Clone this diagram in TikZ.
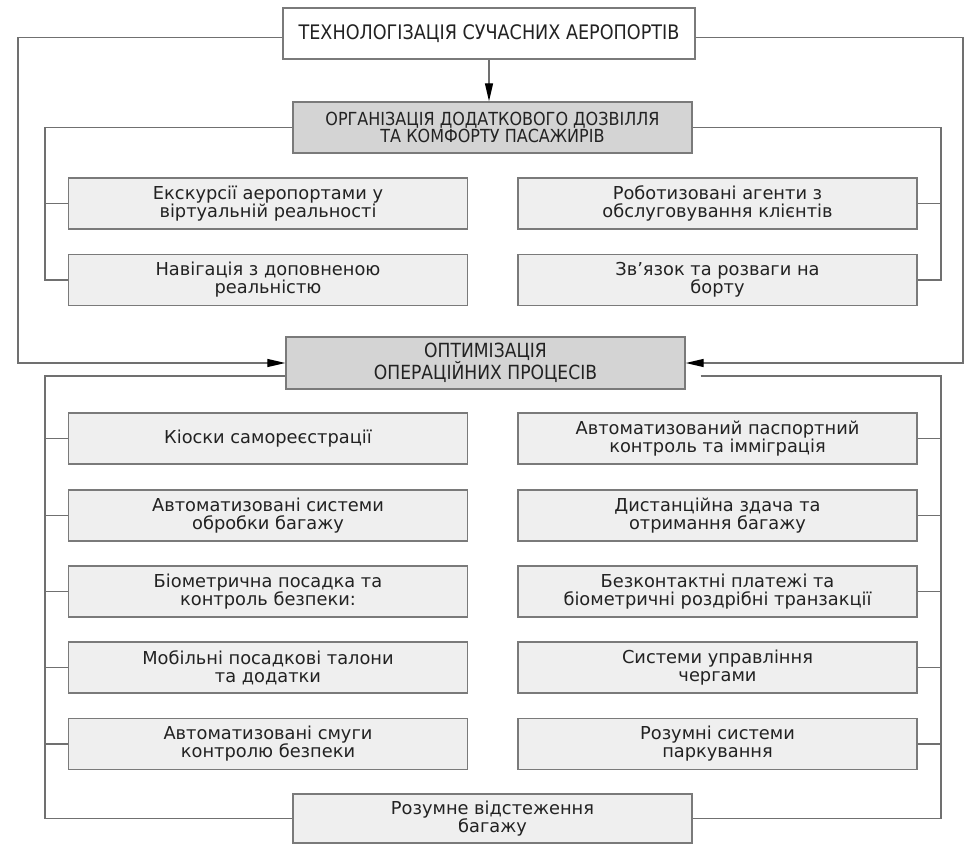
\documentclass[tikz,border=0pt]{standalone}
\usepackage{fontspec}
\setmainfont{DejaVu Sans}
\newfontfamily\hdrfont[FakeStretch=0.88]{DejaVu Sans}
\newfontfamily\orgfont[FakeStretch=0.89]{DejaVu Sans}
\usetikzlibrary{arrows.meta}
\definecolor{linegray}{HTML}{707070}
\definecolor{boxline}{HTML}{7A7A7A}
\definecolor{hdrfill}{HTML}{D4D4D4}
\definecolor{itemfill}{HTML}{EFEFEF}
\definecolor{txt}{HTML}{222222}
\tikzset{
  basebox/.style={draw=boxline, line width=1.4pt, inner sep=0pt, align=center, text=txt},
  topbox/.style={basebox, fill=white, minimum width=412pt, minimum height=51pt,
     font=\hdrfont\fontsize{20}{17}\selectfont},
  hdrbox/.style={basebox, fill=hdrfill, minimum width=399pt, minimum height=51pt,
     font=\orgfont\fontsize{18}{17}\selectfont},
  itembox/.style={basebox, fill=itemfill, minimum width=399pt, minimum height=51pt,
     font=\fontsize{17.8}{18}\selectfont},
  conn/.style={draw=linegray, line width=1.3pt},
  arr/.style={conn, -{Triangle[length=18pt,width=8pt,black]}}
}
\begin{document}
\begin{tikzpicture}[x=1pt,y=-1pt]
\useasboundingbox (0,0) rectangle (966,845);
% main nodes
\node[topbox] (top) at (489,33.5) {ТЕХНОЛОГІЗАЦІЯ СУЧАСНИХ АЕРОПОРТІВ};
\node[hdrbox] (org) at (492.5,127.5) {ОРГАНІЗАЦІЯ ДОДАТКОВОГО ДОЗВІЛЛЯ\\ТА КОМФОРТУ ПАСАЖИРІВ};
\node[hdrbox, minimum height=52pt, font=\hdrfont\fontsize{19.5}{21}\selectfont] (opt) at (485.5,363) {ОПТИМІЗАЦІЯ\\ОПЕРАЦІЙНИХ ПРОЦЕСІВ};
% upper items
\node[itembox] (ul1) at (268,203.5) {Екскурсії аеропортами у\\віртуальній реальності};
\node[itembox] (ul2) at (268,280) {Навігація з доповненою\\реальністю};
\node[itembox] (ur1) at (717.5,203.5) {Роботизовані агенти з\\обслуговування клієнтів};
\node[itembox] (ur2) at (717.5,280) {Зв’язок та розваги на\\борту};
% lower items
\node[itembox] (ll1) at (268,438.5) {Кіоски самореєстрації};
\node[itembox] (ll2) at (268,515.5) {Автоматизовані системи\\обробки багажу};
\node[itembox] (ll3) at (268,591.5) {Біометрична посадка та\\контроль безпеки:};
\node[itembox] (ll4) at (268,667.5) {Мобільні посадкові талони\\та додатки};
\node[itembox] (ll5) at (268,744) {Автоматизовані смуги\\контролю безпеки};
\node[itembox] (lr1) at (717.5,438.5) {Автоматизований паспортний\\контроль та імміграція};
\node[itembox] (lr2) at (717.5,515.5) {Дистанційна здача та\\отримання багажу};
\node[itembox] (lr3) at (717.5,591.5) {Безконтактні платежі та\\біометричні роздрібні транзакції};
\node[itembox] (lr4) at (717.5,667.5) {Системи управління\\чергами};
\node[itembox] (lr5) at (717.5,744) {Розумні системи\\паркування};
\node[itembox, minimum height=49pt] (bot) at (492.5,818.5) {Розумне відстеження\\багажу};
% rails
\coordinate (farL) at (18,0);
\coordinate (farR) at (963,0);
\coordinate (railL) at (45,0);
\coordinate (railR) at (941,0);
\coordinate (topL) at ([yshift=-4pt]top.west);
\coordinate (topR) at ([yshift=-4pt]top.east);
% top box to opt box (outer loop)
\draw[arr] (topL) -- (farL |- topL) -- (farL |- opt.west) -- (opt.west);
\draw[arr] (topR) -- (farR |- topR) -- (farR |- opt.east) -- (opt.east);
% top to org
\draw[arr] (top.south) -- (top.south |- org.north);
% org branches
\draw[conn] (org.west) -- (railL |- org.west) -- (railL |- ul2.west) -- (ul2.west);
\draw[conn] (railL |- ul1.west) -- (ul1.west);
\draw[conn] (org.east) -- (railR |- org.east) -- (railR |- ur2.east) -- (ur2.east);
\draw[conn] (railR |- ur1.east) -- (ur1.east);
% opt branches
\coordinate (optL) at ([yshift=-13pt]opt.west);
\coordinate (optR) at ([xshift=15pt,yshift=-13pt]opt.east);
\draw[conn] (optL) -- (railL |- optL) -- (railL |- bot.west) -- (bot.west);
\draw[conn] (optR) -- (railR |- optR) -- (railR |- bot.east) -- (bot.east);
\foreach \n in {ll1,ll2,ll3,ll4,ll5} \draw[conn] (railL |- \n.west) -- (\n.west);
\foreach \n in {lr1,lr2,lr3,lr4,lr5} \draw[conn] (railR |- \n.east) -- (\n.east);
\end{tikzpicture}
\end{document}
